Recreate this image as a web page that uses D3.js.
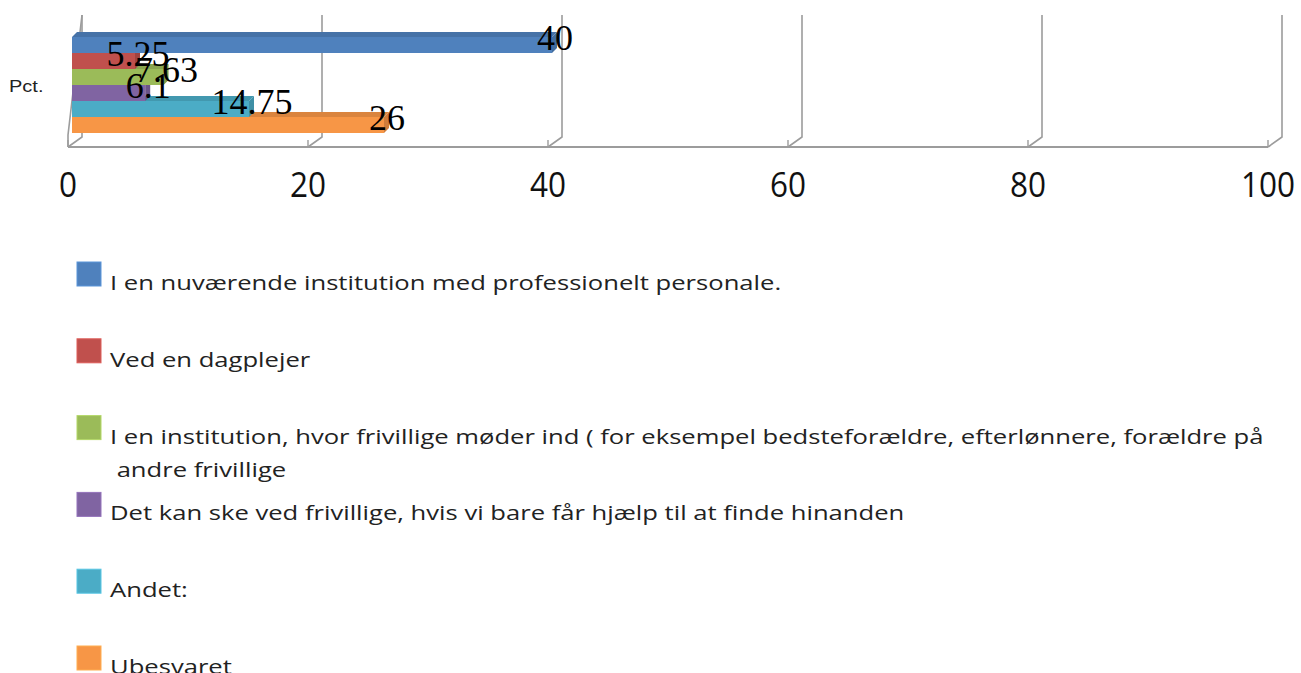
<!DOCTYPE html>
<html><head><meta charset="utf-8">
<script src="https://cdn.jsdelivr.net/npm/d3@7"></script>
<style>body{margin:0;background:#fff;} svg{display:block;}</style>
</head><body><svg id="chart" width="1301" height="673"></svg>
<script>
const categories = ["Pct."];
const seriesNames = [
  "I en nuværende institution med professionelt personale.",
  "Ved en dagplejer",
  "I en institution, hvor frivillige møder ind ( for eksempel bedsteforældre, efterlønnere, forældre på\n andre frivillige",
  "Det kan ske ved frivillige, hvis vi bare får hjælp til at finde hinanden",
  "Andet:",
  "Ubesvaret"
];
const seriesValues = [40, 5.25, 7.63, 6.1, 14.75, 26];
const seriesColors = ["#4F81BD", "#C0504D", "#9BBB59", "#8064A2", "#4BACC6", "#F79646"];
const xTicks = [0, 20, 40, 60, 80, 100];

const svg = d3.select("#chart");
const floorY = 147, topY = 15;
const depth = {dx: 14, dy: -10};
const x = d3.scaleLinear().domain([0, 100]).range([68, 1268]);
const y = d3.scaleBand().domain(d3.range(seriesNames.length)).range([37, 133]).padding(0);
const barOff = 4, bevel = 5;
const gridColor = "#9c9c9c";

// left wall
svg.append("path")
  .attr("d", `M${x(0)},${floorY} L${x(0)},${floorY + depth.dy * 1.2} L${x(0) + depth.dx},${topY}`)
  .attr("fill", "none").attr("stroke", gridColor).attr("stroke-width", 1.6);

// gridlines (back wall) and floor connectors
svg.append("g").selectAll("path").data(xTicks).join("path")
  .attr("d", v => `M${x(v) + depth.dx},${topY} L${x(v) + depth.dx},${floorY + depth.dy} L${x(v)},${floorY}`)
  .attr("fill", "none").attr("stroke", gridColor).attr("stroke-width", 1.6);

// front axis line
svg.append("path").attr("d", `M${x(0)},${floorY} L${x(100)},${floorY}`)
  .attr("stroke", gridColor).attr("stroke-width", 2.2);
svg.append("g").selectAll("path").data(xTicks).join("path")
  .attr("d", v => `M${x(v)},${floorY} L${x(v)},${floorY - 7}`)
  .attr("stroke", gridColor).attr("stroke-width", 1.4);

// bars (bottom first so upper bars cover lower top faces)
const idx = d3.range(seriesValues.length).reverse();
const bars = svg.append("g");
idx.forEach(i => {
  const v = seriesValues[i];
  const x0 = x(0) + barOff, x1 = x(v) + barOff, yy = y(i), h = y.bandwidth();
  const c = d3.color(seriesColors[i]);
  const g = bars.append("g");
  g.append("path")
    .attr("d", `M${x0},${yy} L${x1},${yy} L${x1 + bevel},${yy - bevel} L${x0 + bevel},${yy - bevel} Z`)
    .attr("fill", c.darker(0.35));
  g.append("path")
    .attr("d", `M${x1},${yy} L${x1 + bevel},${yy - bevel} L${x1 + bevel},${yy + h - bevel} L${x1},${yy + h} Z`)
    .attr("fill", c.darker(0.5));
  g.append("rect").attr("x", x0).attr("y", yy).attr("width", x1 - x0).attr("height", h)
    .attr("fill", c);
});

// data labels
svg.append("g").selectAll("text").data(seriesValues).join("text")
  .attr("x", (v) => x(v) + barOff + 3)
  .attr("y", (v, i) => y(i) + y.bandwidth() / 2 + 5)
  .attr("text-anchor", "middle")
  .attr("font-family", "'Liberation Serif', 'Times New Roman', serif")
  .attr("font-size", 36).attr("fill", "#000")
  .text(v => String(v));

// category label
svg.append("text")
  .attr("transform", `translate(9,92) scale(1.25,1)`)
  .attr("font-family", "'Liberation Sans', Arial, sans-serif")
  .attr("font-size", 16).attr("fill", "#222")
  .text(categories[0]);

// x tick labels
svg.append("g").selectAll("text").data(xTicks).join("text")
  .attr("transform", v => `translate(${x(v)},197) scale(0.9,1)`)
  .attr("text-anchor", "middle")
  .attr("font-family", "'Open Sans', sans-serif")
  .attr("font-size", 35).attr("fill", "#111")
  .text(d => d);

// legend
const lg = svg.append("g");
seriesNames.forEach((name, i) => {
  const top = 262 + i * 76.8;
  lg.append("rect").attr("x", 77).attr("y", top).attr("width", 24).attr("height", 24)
    .attr("fill", seriesColors[i]).attr("stroke", d3.color(seriesColors[i]).brighter(0.4)).attr("stroke-width", 1);
  const t = lg.append("text")
    .attr("transform", `translate(110,${top + 28}) scale(1.28,1)`)
    .attr("font-family", "'Open Sans', sans-serif")
    .attr("font-size", 20).attr("fill", "#222")
    .style("white-space", "pre");
  name.split("\n").forEach((line, k) => {
    t.append("tspan").attr("x", 0).attr("dy", k === 0 ? 0 : 33).text(line);
  });
});
</script></body></html>
